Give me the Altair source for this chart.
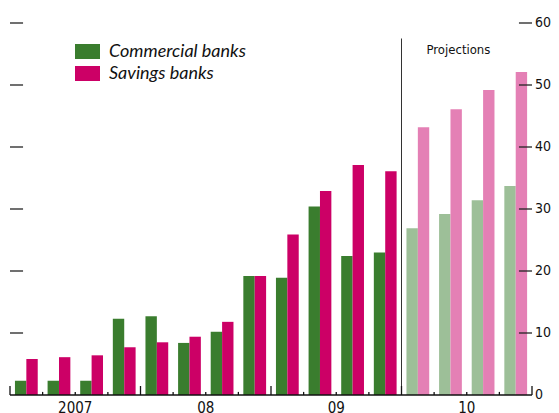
import altair as alt
import pandas as pd

quarters = ["2007Q1", "2007Q2", "2007Q3", "2007Q4", "2008Q1", "2008Q2", "2008Q3", "2008Q4",
            "2009Q1", "2009Q2", "2009Q3", "2009Q4", "2010Q1", "2010Q2", "2010Q3", "2010Q4"]
commercial = [2.3, 2.3, 2.3, 12.3, 12.7, 8.4, 10.2, 19.2, 18.9, 30.4, 22.4, 23.0, 26.9, 29.2, 31.4, 33.7]
savings = [5.8, 6.1, 6.4, 7.7, 8.5, 9.4, 11.8, 19.2, 25.9, 32.9, 37.1, 36.1, 43.2, 46.1, 49.2, 52.1]
projection = [False] * 12 + [True] * 4
series_names = ["Commercial banks", "Savings banks"]
year_labels = ["2007", "08", "09", "10"]
year_centers = [2, 6, 10, 14]
y_ticks = [10, 20, 30, 40, 50, 60]
y_labels = [0, 10, 20, 30, 40, 50, 60]
proj_start = 12
proj_label = "Projections"

colors = {
    "Commercial banks": "#3a7d2e",
    "Savings banks": "#cc0066",
    "Commercial banks (projection)": "#9dbf98",
    "Savings banks (projection)": "#e480b5",
}

rows = []
for i, q in enumerate(quarters):
    for s, (name, vals) in enumerate(zip(series_names, [commercial, savings])):
        key = name + (" (projection)" if projection[i] else "")
        rows.append({"quarter": q, "idx": i, "s": s, "series": key, "value": vals[i], "zero": 0})
bars_df = pd.DataFrame(rows)

FONT_C = "Liberation Sans Narrow, DejaVu Sans Condensed, sans-serif"

xs = alt.Scale(domain=[0, 16], nice=False, zero=False)
ys = alt.Scale(domain=[0, 60], nice=False)

bars = alt.Chart(bars_df).transform_calculate(
    x1="datum.idx + 0.152 + datum.s * 0.349",
    x2="datum.idx + 0.152 + (datum.s + 1) * 0.349",
).mark_rect().encode(
    x=alt.X("x1:Q", scale=xs, axis=None),
    x2="x2:Q",
    y=alt.Y("value:Q", scale=ys, axis=None),
    y2="zero:Q",
    color=alt.Color("series:N",
                    scale=alt.Scale(domain=list(colors.keys()), range=list(colors.values())),
                    legend=alt.Legend(values=series_names, orient="none", legendX=65, legendY=16,
                                      title=None, symbolType="M-1,-0.6H1V0.6H-1Z", symbolSize=625,
                                      symbolStrokeWidth=0, symbolOpacity=1, labelFont="Lato",
                                      labelFontStyle="italic", labelFontSize=18, labelColor="#111",
                                      labelOffset=9, padding=0, rowPadding=0)),
)

tick_df = pd.DataFrame({"v": y_ticks, "l0": 0.0, "l1": 0.4, "r0": 15.6, "r1": 16.0})
left_ticks = alt.Chart(tick_df).mark_rule(color="#222", strokeWidth=1.3).encode(
    y=alt.Y("v:Q", scale=ys, axis=None), x=alt.X("l0:Q", scale=xs, axis=None), x2="l1:Q")
right_ticks = alt.Chart(tick_df).mark_rule(color="#222", strokeWidth=1.3).encode(
    y=alt.Y("v:Q", scale=ys, axis=None), x=alt.X("r0:Q", scale=xs, axis=None), x2="r1:Q")

rl_df = pd.DataFrame({"v": y_labels, "x": 16})
right_labels = alt.Chart(rl_df).mark_text(font=FONT_C, fontSize=14, align="left",
                                          baseline="middle", dx=3, color="#111").encode(
    y=alt.Y("v:Q", scale=ys, axis=None), x=alt.X("x:Q", scale=xs, axis=None), text="v:Q")

base_df = pd.DataFrame({"a": [0], "b": [16], "y": [0]})
baseline = alt.Chart(base_df).mark_rule(color="#111", strokeWidth=1.5).encode(
    x=alt.X("a:Q", scale=xs, axis=None), x2="b:Q", y=alt.Y("y:Q", scale=ys, axis=None))

qt_df = pd.DataFrame({"pos": list(range(17)), "y": 0,
                      "h": [1.45 if p % 4 == 0 else 0.5 for p in range(17)]})
qticks = alt.Chart(qt_df).mark_rule(color="#111", strokeWidth=1.3).encode(
    x=alt.X("pos:Q", scale=xs, axis=None), y=alt.Y("y:Q", scale=ys, axis=None), y2="h:Q")

yl_df = pd.DataFrame({"pos": year_centers, "label": year_labels, "y": 0})
years = alt.Chart(yl_df).mark_text(font=FONT_C, fontSize=15, baseline="top", dy=6,
                                   color="#111").encode(
    x=alt.X("pos:Q", scale=xs, axis=None), y=alt.Y("y:Q", scale=ys, axis=None), text="label:N")

pl_df = pd.DataFrame({"pos": [proj_start], "top": [57.5], "bottom": [0], "ty": [55.6],
                      "label": [proj_label]})
proj_line = alt.Chart(pl_df).mark_rule(color="#333", strokeWidth=1).encode(
    x=alt.X("pos:Q", scale=xs, axis=None), y=alt.Y("top:Q", scale=ys, axis=None),
    y2="bottom:Q")
proj_text = alt.Chart(pl_df).mark_text(font=FONT_C, fontSize=13, align="left", baseline="middle",
                                       dx=25, color="#111").encode(
    x=alt.X("pos:Q", scale=xs, axis=None), y=alt.Y("ty:Q", scale=ys, axis=None), text="label:N")

chart = alt.layer(bars, left_ticks, right_ticks, right_labels, proj_line, proj_text,
                  baseline, qticks, years).properties(
    width=522, height=372,
    padding={"left": 2, "top": 15, "right": 19, "bottom": 18},
    autosize=alt.AutoSizeParams(type="none"),
).configure(background="white").configure_view(stroke=None)

chart.save("out.html", embed_options={"renderer": "svg", "actions": False})
